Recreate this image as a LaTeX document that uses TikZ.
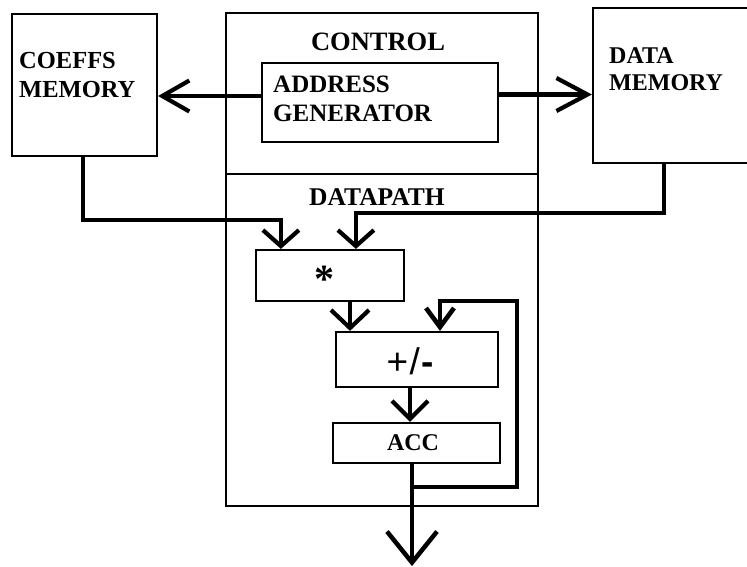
\documentclass[tikz,border=0pt]{standalone}
\usepackage{fontspec}
\setmainfont{Liberation Serif}
\newfontfamily\opfont{Liberation Sans}
\usetikzlibrary{arrows.meta}

\begin{document}
\begin{tikzpicture}[x=1pt,y=-1pt,
  blk/.style={draw,line width=2.2pt,inner sep=0pt,rectangle},
  lbl/.style={inner sep=0pt,font=\bfseries\fontsize{24}{29}\selectfont},
  link/.style={line width=4.2pt},
]
\useasboundingbox (0,0) rectangle (747,567);
\clip (0,0) rectangle (747,567);

% memories
\node[blk,minimum width=145pt,minimum height=142pt] (coeffs) at (84.5,85) {};
\node[blk,minimum width=167pt,minimum height=155pt] (data) at (676.5,85.5) {};
\node[lbl,anchor=north west,align=left,font=\bfseries\fontsize{24.5}{29}\selectfont] (coeffsT) at (19,52) {COEFFS\\MEMORY};
\node[lbl,anchor=north west,align=left,font=\bfseries\fontsize{24}{27}\selectfont] (dataT) at (609,47) {DATA\\MEMORY};

% control / datapath frame
\node[blk,minimum width=312pt,minimum height=161pt] (control) at (382,93.5) {};
\node[blk,minimum width=312pt,minimum height=332pt] (datapath) at (382,340) {};
\node[lbl,font=\bfseries\fontsize{26.5}{30}\selectfont] (controlT) at (378,42) {CONTROL};
\node[lbl,font=\bfseries\fontsize{25.5}{30}\selectfont] (datapathT) at (377,197) {DATAPATH};

% address generator
\node[blk,minimum width=236pt,minimum height=79pt] (addr) at (380,102.5) {};
\node[lbl,anchor=north west,align=left,font=\bfseries\fontsize{25}{29}\selectfont] (addrT) at (273,76) {ADDRESS\\GENERATOR};

% datapath units
\node[blk,minimum width=148pt,minimum height=51pt] (mult) at (330,275.5) {};
\node[lbl,font=\bfseries\fontsize{40}{40}\selectfont] (multT) at (324,279) {*};
\node[blk,minimum width=162pt,minimum height=55pt] (addsub) at (417,359.5) {};
\node[inner sep=0pt,font=\opfont\fontsize{37}{37}\selectfont] (addsubT) at (410,361) {+\kern1.5pt/\kern1pt\textbf{-}};
\node[blk,minimum width=167pt,minimum height=40pt] (acc) at (416.5,443) {};
\node[lbl] (accT) at (413,443) {ACC};

% entry points on the units
\coordinate (mA) at ([xshift=26pt]mult.north west);
\coordinate (mB) at ([xshift=101pt]mult.north west);
\coordinate (aIn) at ([xshift=-67pt]addsub.north);
\coordinate (fb) at ([xshift=23pt]addsub.north);
\coordinate (accOut) at ([xshift=-4.5pt]acc.south);
\coordinate (out) at ([yshift=-102pt]accOut);

% address buses
\draw[link,-{Straight Barb[length=27pt,width=31pt]}] ([yshift=6.5pt]addr.west) coordinate (al) -- (al -| coeffs.east);
\draw[link,-{Straight Barb[length=31pt,width=33pt]}] ([yshift=8pt]addr.east) coordinate (ar) -- (ar -| data.west);

% operands into the multiplier
\draw[link,-{Straight Barb[length=16pt,width=36pt]}] ([xshift=-1.5pt]coeffs.south) -- ++(0,63) -| (mA);
\draw[link,-{Straight Barb[length=16pt,width=36pt]}] ([xshift=-12.5pt]data.south) -- ++(0,49) -| (mB);

% multiply-accumulate chain
\draw[link,-{Straight Barb[length=18pt,width=38pt]}] (mult.south -| aIn) -- (aIn);
\draw[link,-{Straight Barb[length=18pt,width=36pt]}] ([xshift=-7pt]addsub.south) coordinate (sOut) -- (sOut |- acc.north);
\draw[link,line width=4.6pt,-{Straight Barb[length=19pt,width=28pt]}] (accOut) -- ++(0,23) -| ++(105,-186) -| (fb);
\draw[link,line width=4.5pt,-{Straight Barb[length=31pt,width=50pt]}] (accOut) -- (out);
\end{tikzpicture}
\end{document}
